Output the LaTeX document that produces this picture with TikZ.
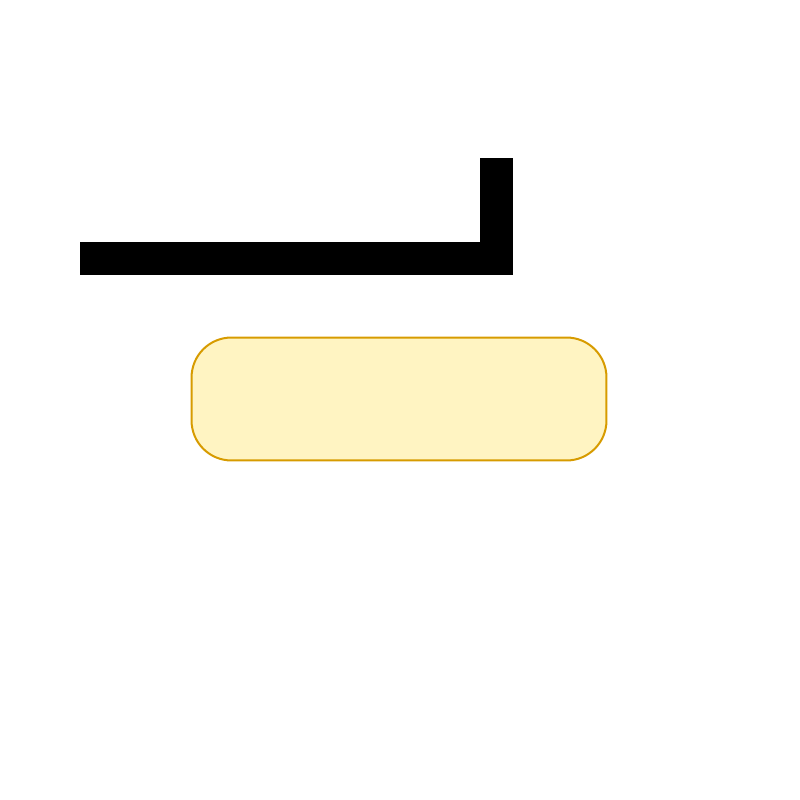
\documentclass[tikz,border=0pt]{standalone}
\usetikzlibrary{positioning}
\definecolor{boxfill}{HTML}{FFF4C2}
\definecolor{boxline}{HTML}{D79B00}
\tikzset{
    panel/.style={draw=boxline, fill=boxfill, line width=0.04cm, rounded corners=0.8cm,
        minimum width=8.3cm, minimum height=2.46cm, inner sep=0pt},
    wall/.style={draw=black, line width=0.66cm, line join=miter},
}
\begin{document}
\begin{tikzpicture}[x=0.02cm, y=-0.02cm]
        \useasboundingbox (0,0) rectangle (800,800);
        \coordinate (w1) at (80,258.5);
        \coordinate (w2) at (496,258.5);
        \coordinate (w3) at (496,158);
        \draw[wall] (w1) -- (w2) -- (w3);
        \node[panel] (box) at (399,399) {};
    \end{tikzpicture}
\end{document}
